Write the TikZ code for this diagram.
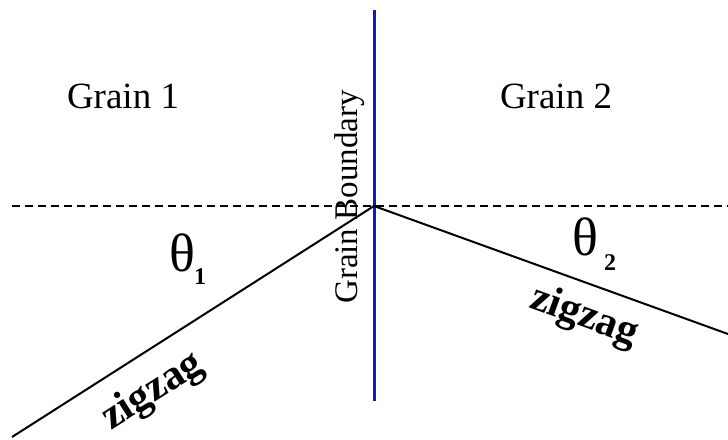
\documentclass[tikz,border=0pt]{standalone}
\usepackage{fontspec}
\setmainfont{Liberation Serif}
\begin{document}
\begin{tikzpicture}[x=1pt,y=-1pt,
  lbl/.style={inner sep=0pt,font=\fontsize{37}{40}\selectfont},
  zz/.style={inner sep=0pt,font=\fontsize{42}{46}\selectfont\bfseries},
  gb/.style={inner sep=0pt,font=\fontsize{33}{36}\selectfont},
  th/.style={inner sep=0pt,font=\fontsize{54}{58}\selectfont},
  sub/.style={inner sep=0pt,font=\fontsize{24}{26}\selectfont\bfseries},
  ray/.style={line width=2pt,black},
  ref/.style={line width=1.4pt,dash pattern=on 8pt off 5pt}]
\useasboundingbox (0,0) rectangle (728,439);
\coordinate (J) at (374,206);
\coordinate (D0) at (12,206);
\coordinate (D1) at (728,206);
\coordinate (B0) at (374,10);
\coordinate (B1) at (374,401);
\coordinate (L) at (12,437);
\coordinate (R) at (728,334);
\draw[ref] (D0) -- (D1);
\node[gb,rotate=90] (gbl) at (350,197) {Grain Boundary};
\draw[line width=3pt,color={rgb,255:red,20;green,20;blue,200}] (B0) -- (B1);
\draw[ray] (L) -- (J) -- (R);
\node[lbl] (g1) at (123,96) {Grain 1};
\node[lbl] (g2) at (556,96) {Grain 2};
\node[th] (t1) at (182,253) {θ};
\node[sub] (s1) at (200,277) {1};
\node[th] (t2) at (585,237) {θ};
\node[sub] (s2) at (610,263) {2};
\node[zz,rotate=32.5] (z1) at (153,392) {zigzag};
\node[zz,rotate=-20] (z2) at (584,317) {zigzag};
\end{tikzpicture}
\end{document}
